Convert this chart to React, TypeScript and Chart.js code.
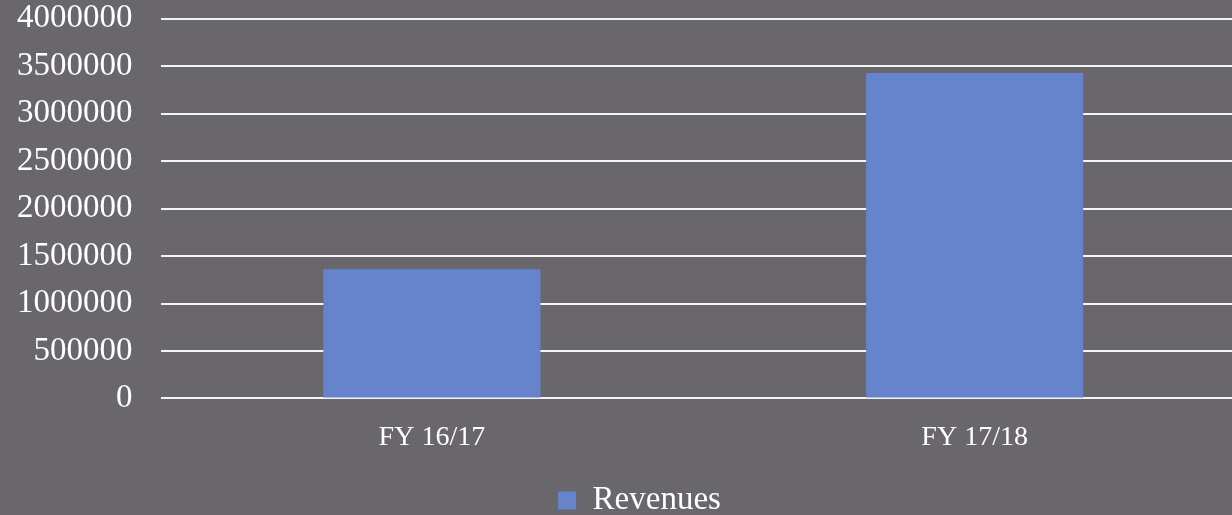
import React, { useEffect, useRef } from "react";
import { Chart, registerables } from "chart.js";

Chart.register(...registerables);

const categories = ["FY 16/17", "FY 17/18"];
const seriesName = "Revenues";
const revenues = [1360000, 3430000];
const yMin = 0;
const yMax = 4000000;
const yStep = 500000;

const BG = "#69666c";
const BAR = "#6584cc";
const FONT = "'Liberation Serif', 'DejaVu Serif', serif";

const legendShift = {
  id: "legendShift",
  afterLayout(chart: any) {
    const l = chart.legend;
    if (l) {
      l.left += 44;
    }
  },
};

export default function App() {
  const ref = useRef<HTMLCanvasElement>(null);

  useEffect(() => {
    document.body.style.margin = "0";
    document.body.style.overflow = "hidden";
    const chart = new Chart(ref.current!, {
      type: "bar",
      data: {
        labels: categories,
        datasets: [
          {
            label: seriesName,
            data: revenues,
            backgroundColor: BAR,
            borderWidth: 0,
            barPercentage: 0.4,
            categoryPercentage: 1,
          },
        ],
      },
      plugins: [legendShift],
      options: {
        animation: false,
        responsive: false,
        maintainAspectRatio: false,
        layout: { padding: { top: -23, left: 0, right: 0, bottom: -12 } },
        plugins: {
          tooltip: { enabled: false },
          legend: {
            position: "bottom",
            labels: {
              color: "#ffffff",
              font: { family: FONT, size: 33 },
              boxWidth: 18,
              boxHeight: 18,
              padding: 8,
            },
          },
        },
        scales: {
          x: {
            grid: { display: false, drawTicks: false },
            border: { display: false },
            ticks: {
              color: "#ffffff",
              font: { family: FONT, size: 28 },
              padding: 22,
            },
          },
          y: {
            min: yMin,
            max: yMax,
            grid: { color: "#f4f4f4", lineWidth: 2, drawTicks: false },
            border: { display: false },
            ticks: {
              stepSize: yStep,
              color: "#ffffff",
              font: { family: FONT, size: 33 },
              padding: 28,
              callback: (v: any) => String(v),
            },
          },
        },
      },
    });
    return () => chart.destroy();
  }, []);

  return (
    <div
      style={{
        position: "fixed",
        left: 0,
        top: 0,
        width: 1232,
        height: 515,
        overflow: "hidden",
        background: BG,
      }}
    >
      <canvas
        ref={ref}
        width={1257}
        height={544}
        style={{ display: "block", position: "absolute", left: -11, top: -29 }}
      />
    </div>
  );
}
